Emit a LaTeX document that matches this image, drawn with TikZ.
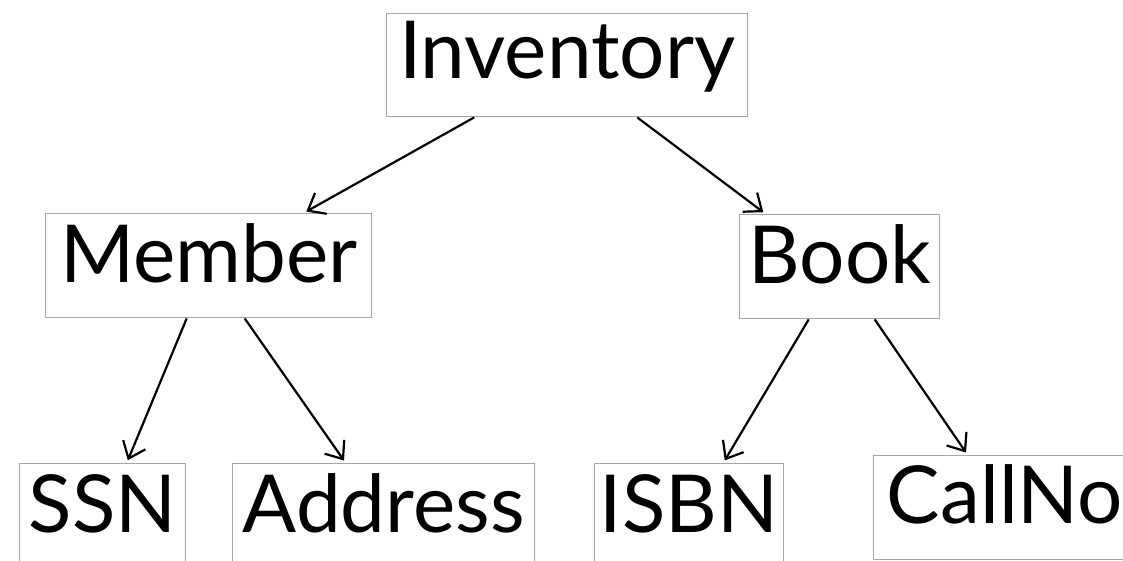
\documentclass[tikz,border=0pt]{standalone}
\usepackage{fontspec}
\setmainfont{Lato}
\usetikzlibrary{arrows.meta}

\begin{document}
\begin{tikzpicture}[x=1pt,y=-1pt,
    box/.style={draw=black!35, line width=1.4pt, inner sep=0pt, anchor=north west,
      text height=69pt, text depth=35pt, font=\fontsize{80}{90}\selectfont},
    arr/.style={-{Straight Barb[length=15pt,width=24pt]}, line width=2.2pt, shorten >=3pt}]
  \useasboundingbox (0,0) rectangle (1123,560);
  \clip (0,0) rectangle (1123,560);
  % top
  \node[box, minimum width=361pt, text height=65pt, text depth=38pt] (inv) at (386,13) {Inventory};
  % middle row
  \node[box, minimum width=326pt] (mem) at (45,213) {Member};
  \node[box, minimum width=200pt] (book) at (739,214) {Book};
  % bottom row
  \node[box, minimum width=166pt] (ssn) at (19,463) {SSN};
  \node[box, minimum width=302pt] (addr) at (232,463) {Address};
  \node[box, minimum width=189pt] (isbn) at (594,463) {ISBN};
  \node[box, minimum width=262pt, text height=68pt, text depth=36pt] (call) at (873,455) {CallNo};
  % arrows
  \draw[arr] ([xshift=-93pt]inv.south) -- ([xshift=95pt]mem.north);
  \draw[arr] ([xshift=70pt]inv.south) -- ([xshift=-74pt]book.north);
  \draw[arr] ([xshift=-22pt]mem.south) -- ([xshift=24pt]ssn.north);
  \draw[arr] ([xshift=36pt]mem.south) -- ([xshift=-38pt]addr.north);
  \draw[arr] ([xshift=-31pt]book.south) -- ([xshift=34pt]isbn.north);
  \draw[arr] ([xshift=35pt]book.south) -- ([xshift=-37pt]call.north);
\end{tikzpicture}
\end{document}
